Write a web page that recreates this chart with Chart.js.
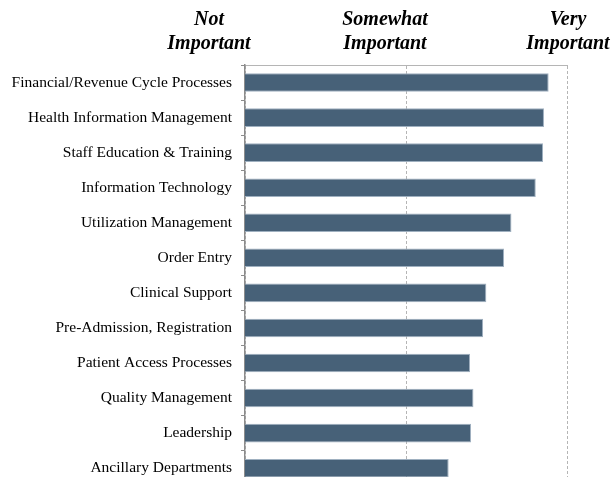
<!DOCTYPE html>
<html>
<head>
<meta charset="utf-8">
<script src="https://cdn.jsdelivr.net/npm/chart.js@4/dist/chart.umd.min.js"></script>
<style>
  html, body { margin: 0; padding: 0; background: #fff; overflow: hidden; }
  #wrap { width: 615px; height: 504px; position: relative; }
</style>
</head>
<body>
<div id="wrap"><canvas id="myChart"></canvas></div>
<script>
// categories, top to bottom
var categories = [
    "Financial/Revenue Cycle Processes",
    "Health Information Management",
    "Staff Education & Training",
    "Information Technology",
    "Utilization Management",
    "Order Entry",
    "Clinical Support",
    "Pre-Admission, Registration",
    "Patient Access Processes",
    "Quality Management",
    "Leadership",
    "Ancillary Departments"
];
// mean importance rating (1 = not, 2 = somewhat, 3 = very)
var ratings = [2.886, 2.857, 2.851, 2.806, 2.655, 2.609, 2.499, 2.479, 2.398, 2.419, 2.404, 2.265];
var scaleValues = [1, 2, 3];
var scaleLabels = [["Not", "Important"], ["Somewhat", "Important"], ["Very", "Important"]];

const ctx = document.getElementById("myChart").getContext("2d");

// header labels above the plot, one per scale value
const headerLabels = {
    id: "headerLabels",
    afterDraw(chart) {
        const x = chart.scales.x;
        const c = chart.ctx;
        const shift = [-36, -21, 1];
        c.save();
        c.font = "italic bold 20px 'Liberation Serif', 'Times New Roman', serif";
        c.fillStyle = "#000";
        c.textAlign = "center";
        c.textBaseline = "alphabetic";
        scaleValues.forEach((v, i) => {
            const px = x.getPixelForValue(v) + shift[i];
            scaleLabels[i].forEach((line, j) => {
                c.fillText(line, px, 25 + j * 24);
            });
        });
        c.restore();
    }
};

new Chart(ctx, {
    type: "bar",
    data: {
        labels: categories,
        datasets: [{
            data: ratings,
            backgroundColor: "#476178",
            borderColor: "#9fb0c0",
            borderWidth: 1,
            borderSkipped: "start",
            categoryPercentage: 1,
            barPercentage: 0.53
        }]
    },
    options: {
        indexAxis: "y",
        responsive: true,
        maintainAspectRatio: false,
        animation: false,
        layout: { padding: { top: 65, right: 48, bottom: 4, left: 0 } },
        plugins: {
            legend: { display: false },
            tooltip: { enabled: false }
        },
        scales: {
            x: {
                position: "top",
                min: 1,
                max: 3,
                afterFit(scale) { scale.height = 0; },
                afterBuildTicks(scale) { scale.ticks = scaleValues.map(v => ({ value: v })); },
                ticks: { display: false },
                grid: {
                    drawTicks: false,
                    color: "#b5b5b5",
                    lineWidth: 1
                },
                border: { display: true, color: "#b5b5b5", dash: [3, 2] }
            },
            y: {
                afterFit(scale) { scale.width = 245; },
                ticks: {
                    color: "#000",
                    padding: 9,
                    font: { family: "'Liberation Serif', 'Times New Roman', serif", size: 15.5 }
                },
                grid: {
                    offset: true,
                    drawOnChartArea: false,
                    drawTicks: true,
                    tickLength: 4,
                    color: "#8c8c8c"
                },
                border: { display: true, color: "#8c8c8c", width: 1.5 }
            }
        }
    },
    plugins: [headerLabels]
});
</script>
</body>
</html>
